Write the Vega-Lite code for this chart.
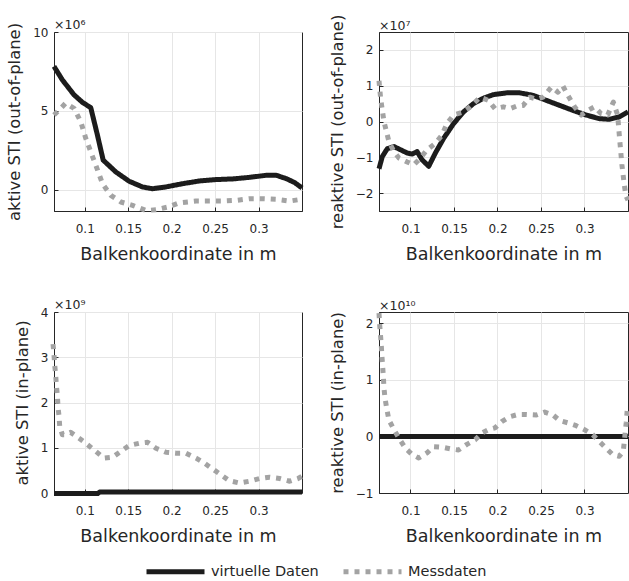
{
  "$schema": "https://vega.github.io/schema/vega-lite/v6.json",
  "padding": {"left": 6, "top": 13, "right": 0, "bottom": 0},
  "datasets": {
    "p1": [
      {"x":0.0646,"y":7.82,"s":"virtuelle Daten"},{"x":0.0742,"y":6.97,"s":"virtuelle Daten"},{"x":0.0877,"y":6.02,"s":"virtuelle Daten"},{"x":0.0973,"y":5.55,"s":"virtuelle Daten"},{"x":0.1069,"y":5.21,"s":"virtuelle Daten"},{"x":0.1146,"y":3.47,"s":"virtuelle Daten"},{"x":0.1212,"y":1.89,"s":"virtuelle Daten"},{"x":0.1358,"y":1.14,"s":"virtuelle Daten"},{"x":0.1512,"y":0.55,"s":"virtuelle Daten"},{"x":0.1665,"y":0.19,"s":"virtuelle Daten"},{"x":0.178,"y":0.08,"s":"virtuelle Daten"},{"x":0.193,"y":0.19,"s":"virtuelle Daten"},{"x":0.2127,"y":0.40,"s":"virtuelle Daten"},{"x":0.2319,"y":0.57,"s":"virtuelle Daten"},{"x":0.2512,"y":0.66,"s":"virtuelle Daten"},{"x":0.2704,"y":0.70,"s":"virtuelle Daten"},{"x":0.2896,"y":0.80,"s":"virtuelle Daten"},{"x":0.3088,"y":0.93,"s":"virtuelle Daten"},{"x":0.3204,"y":0.93,"s":"virtuelle Daten"},{"x":0.3319,"y":0.72,"s":"virtuelle Daten"},{"x":0.3415,"y":0.47,"s":"virtuelle Daten"},{"x":0.35,"y":0.13,"s":"virtuelle Daten"},
      {"x":0.0646,"y":4.75,"s":"Messdaten"},{"x":0.0704,"y":5.06,"s":"Messdaten"},{"x":0.078,"y":5.49,"s":"Messdaten"},{"x":0.0877,"y":5.17,"s":"Messdaten"},{"x":0.0954,"y":4.32,"s":"Messdaten"},{"x":0.1012,"y":3.26,"s":"Messdaten"},{"x":0.1069,"y":2.42,"s":"Messdaten"},{"x":0.1127,"y":1.57,"s":"Messdaten"},{"x":0.1204,"y":0.40,"s":"Messdaten"},{"x":0.13,"y":-0.34,"s":"Messdaten"},{"x":0.1415,"y":-0.76,"s":"Messdaten"},{"x":0.155,"y":-0.97,"s":"Messdaten"},{"x":0.1704,"y":-1.30,"s":"Messdaten"},{"x":0.1819,"y":-1.25,"s":"Messdaten"},{"x":0.1954,"y":-1.08,"s":"Messdaten"},{"x":0.2088,"y":-0.81,"s":"Messdaten"},{"x":0.228,"y":-0.70,"s":"Messdaten"},{"x":0.2435,"y":-0.70,"s":"Messdaten"},{"x":0.2588,"y":-0.70,"s":"Messdaten"},{"x":0.2742,"y":-0.66,"s":"Messdaten"},{"x":0.2896,"y":-0.55,"s":"Messdaten"},{"x":0.305,"y":-0.55,"s":"Messdaten"},{"x":0.3204,"y":-0.59,"s":"Messdaten"},{"x":0.3358,"y":-0.70,"s":"Messdaten"},{"x":0.3492,"y":-0.59,"s":"Messdaten"}
    ],
    "p2": [
      {"x":0.0638,"y":-1.32,"s":"virtuelle Daten"},{"x":0.0676,"y":-0.98,"s":"virtuelle Daten"},{"x":0.0733,"y":-0.76,"s":"virtuelle Daten"},{"x":0.081,"y":-0.70,"s":"virtuelle Daten"},{"x":0.0886,"y":-0.79,"s":"virtuelle Daten"},{"x":0.0962,"y":-0.88,"s":"virtuelle Daten"},{"x":0.1019,"y":-0.91,"s":"virtuelle Daten"},{"x":0.1076,"y":-0.84,"s":"virtuelle Daten"},{"x":0.1133,"y":-1.07,"s":"virtuelle Daten"},{"x":0.121,"y":-1.25,"s":"virtuelle Daten"},{"x":0.1286,"y":-0.88,"s":"virtuelle Daten"},{"x":0.1381,"y":-0.47,"s":"virtuelle Daten"},{"x":0.1495,"y":-0.06,"s":"virtuelle Daten"},{"x":0.161,"y":0.27,"s":"virtuelle Daten"},{"x":0.1724,"y":0.50,"s":"virtuelle Daten"},{"x":0.1838,"y":0.65,"s":"virtuelle Daten"},{"x":0.1952,"y":0.75,"s":"virtuelle Daten"},{"x":0.2105,"y":0.80,"s":"virtuelle Daten"},{"x":0.2257,"y":0.80,"s":"virtuelle Daten"},{"x":0.241,"y":0.73,"s":"virtuelle Daten"},{"x":0.2562,"y":0.59,"s":"virtuelle Daten"},{"x":0.2714,"y":0.45,"s":"virtuelle Daten"},{"x":0.2867,"y":0.31,"s":"virtuelle Daten"},{"x":0.3019,"y":0.18,"s":"virtuelle Daten"},{"x":0.3171,"y":0.08,"s":"virtuelle Daten"},{"x":0.3286,"y":0.06,"s":"virtuelle Daten"},{"x":0.34,"y":0.13,"s":"virtuelle Daten"},{"x":0.35,"y":0.27,"s":"virtuelle Daten"},
      {"x":0.0638,"y":1.14,"s":"Messdaten"},{"x":0.0657,"y":0.64,"s":"Messdaten"},{"x":0.0695,"y":0.0,"s":"Messdaten"},{"x":0.0752,"y":-0.56,"s":"Messdaten"},{"x":0.081,"y":-0.84,"s":"Messdaten"},{"x":0.0867,"y":-1.02,"s":"Messdaten"},{"x":0.0962,"y":-1.13,"s":"Messdaten"},{"x":0.1038,"y":-1.21,"s":"Messdaten"},{"x":0.1114,"y":-1.02,"s":"Messdaten"},{"x":0.119,"y":-0.79,"s":"Messdaten"},{"x":0.1286,"y":-0.61,"s":"Messdaten"},{"x":0.1362,"y":-0.38,"s":"Messdaten"},{"x":0.1419,"y":-0.06,"s":"Messdaten"},{"x":0.1495,"y":0.18,"s":"Messdaten"},{"x":0.159,"y":0.25,"s":"Messdaten"},{"x":0.1686,"y":0.41,"s":"Messdaten"},{"x":0.18,"y":0.68,"s":"Messdaten"},{"x":0.1895,"y":0.59,"s":"Messdaten"},{"x":0.1971,"y":0.36,"s":"Messdaten"},{"x":0.2067,"y":0.41,"s":"Messdaten"},{"x":0.2143,"y":0.36,"s":"Messdaten"},{"x":0.2219,"y":0.43,"s":"Messdaten"},{"x":0.2295,"y":0.45,"s":"Messdaten"},{"x":0.2371,"y":0.68,"s":"Messdaten"},{"x":0.2448,"y":0.62,"s":"Messdaten"},{"x":0.2524,"y":0.68,"s":"Messdaten"},{"x":0.2619,"y":0.96,"s":"Messdaten"},{"x":0.2695,"y":0.82,"s":"Messdaten"},{"x":0.2752,"y":0.99,"s":"Messdaten"},{"x":0.281,"y":0.73,"s":"Messdaten"},{"x":0.2886,"y":0.41,"s":"Messdaten"},{"x":0.2962,"y":0.18,"s":"Messdaten"},{"x":0.3038,"y":0.31,"s":"Messdaten"},{"x":0.3114,"y":0.41,"s":"Messdaten"},{"x":0.319,"y":0.22,"s":"Messdaten"},{"x":0.3267,"y":0.18,"s":"Messdaten"},{"x":0.3331,"y":0.54,"s":"Messdaten"},{"x":0.3381,"y":0.18,"s":"Messdaten"},{"x":0.34,"y":-0.38,"s":"Messdaten"},{"x":0.343,"y":-1.21,"s":"Messdaten"},{"x":0.3457,"y":-1.76,"s":"Messdaten"},{"x":0.3476,"y":-2.08,"s":"Messdaten"},{"x":0.35,"y":-2.2,"s":"Messdaten"}
    ],
    "p3": [
      {"x":0.0646,"y":-0.01,"s":"virtuelle Daten"},{"x":0.115,"y":-0.01,"s":"virtuelle Daten"},{"x":0.117,"y":0.02,"s":"virtuelle Daten"},{"x":0.35,"y":0.02,"s":"virtuelle Daten"},
      {"x":0.0635,"y":3.29,"s":"Messdaten"},{"x":0.0646,"y":3.05,"s":"Messdaten"},{"x":0.0654,"y":2.83,"s":"Messdaten"},{"x":0.0665,"y":2.61,"s":"Messdaten"},{"x":0.0673,"y":2.39,"s":"Messdaten"},{"x":0.0685,"y":2.15,"s":"Messdaten"},{"x":0.0692,"y":1.91,"s":"Messdaten"},{"x":0.0704,"y":1.69,"s":"Messdaten"},{"x":0.0712,"y":1.47,"s":"Messdaten"},{"x":0.0742,"y":1.29,"s":"Messdaten"},{"x":0.078,"y":1.29,"s":"Messdaten"},{"x":0.0838,"y":1.34,"s":"Messdaten"},{"x":0.0935,"y":1.21,"s":"Messdaten"},{"x":0.1031,"y":1.07,"s":"Messdaten"},{"x":0.1127,"y":0.92,"s":"Messdaten"},{"x":0.1223,"y":0.77,"s":"Messdaten"},{"x":0.1319,"y":0.79,"s":"Messdaten"},{"x":0.1415,"y":0.92,"s":"Messdaten"},{"x":0.1512,"y":1.05,"s":"Messdaten"},{"x":0.1627,"y":1.10,"s":"Messdaten"},{"x":0.1723,"y":1.12,"s":"Messdaten"},{"x":0.1819,"y":0.99,"s":"Messdaten"},{"x":0.1935,"y":0.90,"s":"Messdaten"},{"x":0.205,"y":0.88,"s":"Messdaten"},{"x":0.2165,"y":0.88,"s":"Messdaten"},{"x":0.2281,"y":0.77,"s":"Messdaten"},{"x":0.2377,"y":0.66,"s":"Messdaten"},{"x":0.2473,"y":0.53,"s":"Messdaten"},{"x":0.2569,"y":0.40,"s":"Messdaten"},{"x":0.2665,"y":0.27,"s":"Messdaten"},{"x":0.2781,"y":0.22,"s":"Messdaten"},{"x":0.2896,"y":0.26,"s":"Messdaten"},{"x":0.3012,"y":0.32,"s":"Messdaten"},{"x":0.3127,"y":0.35,"s":"Messdaten"},{"x":0.3242,"y":0.32,"s":"Messdaten"},{"x":0.3358,"y":0.26,"s":"Messdaten"},{"x":0.3454,"y":0.32,"s":"Messdaten"},{"x":0.35,"y":0.37,"s":"Messdaten"}
    ],
    "p4": [
      {"x":0.0638,"y":0.0,"s":"virtuelle Daten"},{"x":0.35,"y":0.0,"s":"virtuelle Daten"},
      {"x":0.0638,"y":2.18,"s":"Messdaten"},{"x":0.0646,"y":1.97,"s":"Messdaten"},{"x":0.0657,"y":1.76,"s":"Messdaten"},{"x":0.0665,"y":1.59,"s":"Messdaten"},{"x":0.0672,"y":1.41,"s":"Messdaten"},{"x":0.068,"y":1.24,"s":"Messdaten"},{"x":0.0688,"y":1.06,"s":"Messdaten"},{"x":0.0695,"y":0.86,"s":"Messdaten"},{"x":0.0707,"y":0.68,"s":"Messdaten"},{"x":0.0726,"y":0.50,"s":"Messdaten"},{"x":0.0752,"y":0.29,"s":"Messdaten"},{"x":0.081,"y":0.12,"s":"Messdaten"},{"x":0.0867,"y":-0.03,"s":"Messdaten"},{"x":0.0943,"y":-0.21,"s":"Messdaten"},{"x":0.1019,"y":-0.32,"s":"Messdaten"},{"x":0.1095,"y":-0.38,"s":"Messdaten"},{"x":0.119,"y":-0.29,"s":"Messdaten"},{"x":0.1267,"y":-0.18,"s":"Messdaten"},{"x":0.1362,"y":-0.19,"s":"Messdaten"},{"x":0.1457,"y":-0.22,"s":"Messdaten"},{"x":0.1552,"y":-0.24,"s":"Messdaten"},{"x":0.1648,"y":-0.14,"s":"Messdaten"},{"x":0.1743,"y":-0.06,"s":"Messdaten"},{"x":0.1819,"y":0.06,"s":"Messdaten"},{"x":0.1895,"y":0.12,"s":"Messdaten"},{"x":0.1971,"y":0.15,"s":"Messdaten"},{"x":0.2048,"y":0.26,"s":"Messdaten"},{"x":0.2143,"y":0.35,"s":"Messdaten"},{"x":0.2238,"y":0.39,"s":"Messdaten"},{"x":0.2333,"y":0.39,"s":"Messdaten"},{"x":0.2448,"y":0.38,"s":"Messdaten"},{"x":0.2543,"y":0.43,"s":"Messdaten"},{"x":0.2638,"y":0.38,"s":"Messdaten"},{"x":0.2714,"y":0.28,"s":"Messdaten"},{"x":0.281,"y":0.24,"s":"Messdaten"},{"x":0.2905,"y":0.19,"s":"Messdaten"},{"x":0.3,"y":0.12,"s":"Messdaten"},{"x":0.3095,"y":0.03,"s":"Messdaten"},{"x":0.3171,"y":-0.09,"s":"Messdaten"},{"x":0.3248,"y":-0.21,"s":"Messdaten"},{"x":0.3324,"y":-0.32,"s":"Messdaten"},{"x":0.34,"y":-0.35,"s":"Messdaten"},{"x":0.3446,"y":-0.26,"s":"Messdaten"},{"x":0.3465,"y":0.03,"s":"Messdaten"},{"x":0.348,"y":0.25,"s":"Messdaten"},{"x":0.349,"y":0.45,"s":"Messdaten"}
    ]
  },
  "columns": 2,
  "bounds": "flush",
  "spacing": {"column": 77, "row": 101},
  "concat": [
    {
      "data": {"name": "p1"},
      "width": 248, "height": 179,
      "title": {"text": "×10⁶", "dy": 13},
      "mark": {"type": "line", "strokeWidth": 5, "strokeCap": "butt", "strokeJoin": "round"},
      "encoding": {
        "x": {"field": "x", "type": "quantitative", "title": "Balkenkoordinate in m", "scale": {"domain": [0.0646, 0.35], "nice": false, "zero": false}, "axis": {"values": [0.1, 0.15, 0.2, 0.25, 0.3]}},
        "y": {"field": "y", "type": "quantitative", "title": "aktive STI (out-of-plane)", "scale": {"domain": [-1.33, 10], "nice": false, "zero": false}, "axis": {"values": [0, 5, 10]}},
        "color": {"field": "s", "type": "nominal", "scale": {"domain": ["virtuelle Daten", "Messdaten"], "range": ["#1c1c1c", "#a3a3a3"]}, "legend": {"title": null}},
        "strokeDash": {"field": "s", "type": "nominal", "scale": {"domain": ["virtuelle Daten", "Messdaten"], "range": [[1, 0], [5, 6]]}, "legend": {"title": null}}
      }
    },
    {
      "data": {"name": "p2"},
      "width": 249, "height": 179,
      "title": {"text": "×10⁷", "dy": 22.5},
      "mark": {"type": "line", "strokeWidth": 5, "strokeCap": "butt", "strokeJoin": "round"},
      "encoding": {
        "x": {"field": "x", "type": "quantitative", "title": "Balkenkoordinate in m", "scale": {"domain": [0.0638, 0.35], "nice": false, "zero": false}, "axis": {"values": [0.1, 0.15, 0.2, 0.25, 0.3]}},
        "y": {"field": "y", "type": "quantitative", "title": "reaktive STI (out-of-plane)", "scale": {"domain": [-2.5, 2.5], "nice": false, "zero": false}, "axis": {"values": [-2, -1, 0, 1, 2]}},
        "color": {"field": "s", "type": "nominal", "scale": {"domain": ["virtuelle Daten", "Messdaten"], "range": ["#1c1c1c", "#a3a3a3"]}, "legend": {"title": null}},
        "strokeDash": {"field": "s", "type": "nominal", "scale": {"domain": ["virtuelle Daten", "Messdaten"], "range": [[1, 0], [5, 6]]}, "legend": {"title": null}}
      }
    },
    {
      "data": {"name": "p3"},
      "width": 248, "height": 181,
      "title": {"text": "×10⁹", "dy": 9},
      "mark": {"type": "line", "strokeWidth": 5, "strokeCap": "butt", "strokeJoin": "round"},
      "encoding": {
        "x": {"field": "x", "type": "quantitative", "title": "Balkenkoordinate in m", "scale": {"domain": [0.0646, 0.35], "nice": false, "zero": false}, "axis": {"values": [0.1, 0.15, 0.2, 0.25, 0.3]}},
        "y": {"field": "y", "type": "quantitative", "title": "aktive STI (in-plane)", "scale": {"domain": [0, 4], "nice": false, "zero": false}, "axis": {"values": [0, 1, 2, 3, 4]}},
        "color": {"field": "s", "type": "nominal", "scale": {"domain": ["virtuelle Daten", "Messdaten"], "range": ["#1c1c1c", "#a3a3a3"]}, "legend": {"title": null}},
        "strokeDash": {"field": "s", "type": "nominal", "scale": {"domain": ["virtuelle Daten", "Messdaten"], "range": [[1, 0], [5, 6]]}, "legend": {"title": null}}
      }
    },
    {
      "data": {"name": "p4"},
      "width": 249, "height": 181,
      "title": {"text": "×10¹⁰", "dy": 5.5},
      "mark": {"type": "line", "strokeWidth": 5, "strokeCap": "butt", "strokeJoin": "round"},
      "encoding": {
        "x": {"field": "x", "type": "quantitative", "title": "Balkenkoordinate in m", "scale": {"domain": [0.0638, 0.35], "nice": false, "zero": false}, "axis": {"values": [0.1, 0.15, 0.2, 0.25, 0.3]}},
        "y": {"field": "y", "type": "quantitative", "title": "reaktive STI (in-plane)", "scale": {"domain": [-1, 2.2], "nice": false, "zero": false}, "axis": {"values": [-1, 0, 1, 2]}},
        "color": {"field": "s", "type": "nominal", "scale": {"domain": ["virtuelle Daten", "Messdaten"], "range": ["#1c1c1c", "#a3a3a3"]}, "legend": {"title": null}},
        "strokeDash": {"field": "s", "type": "nominal", "scale": {"domain": ["virtuelle Daten", "Messdaten"], "range": [[1, 0], [5, 6]]}, "legend": {"title": null}}
      }
    }
  ],
  "resolve": {"scale": {"x": "independent", "y": "independent"}},
  "config": {
    "font": "DejaVu Sans",
    "view": {"stroke": "#262626", "strokeWidth": 1},
    "title": {"anchor": "start", "frame": "group", "fontSize": 12.5, "fontWeight": "normal", "color": "#262626", "offset": 4, "font": "DejaVu Sans"},
    "axis": {
      "labelFont": "DejaVu Sans", "labelFontSize": 12, "labelColor": "#262626", "format": "~r",
      "titleFont": "DejaVu Sans", "titleFontSize": 17.5, "titleFontWeight": "normal", "titleColor": "#262626",
      "gridColor": "#e6e6e6", "gridWidth": 1, "domainColor": "#262626", "tickColor": "#262626",
      "tickSize": -4, "labelPadding": 10, "titlePadding": 10
    },
    "axisX": {"labelPadding": 16, "titlePadding": 11},
    "axisY": {"titleFontSize": 16.4},
    "legend": {
      "orient": "none", "legendX": 90, "legendY": 508, "direction": "horizontal", "symbolType": "stroke", "symbolSize": 3364, "symbolStrokeWidth": 5,
      "labelFontSize": 14.5, "labelFont": "DejaVu Sans", "labelColor": "#262626", "columnPadding": 14, "labelOffset": 4
    }
  }
}
